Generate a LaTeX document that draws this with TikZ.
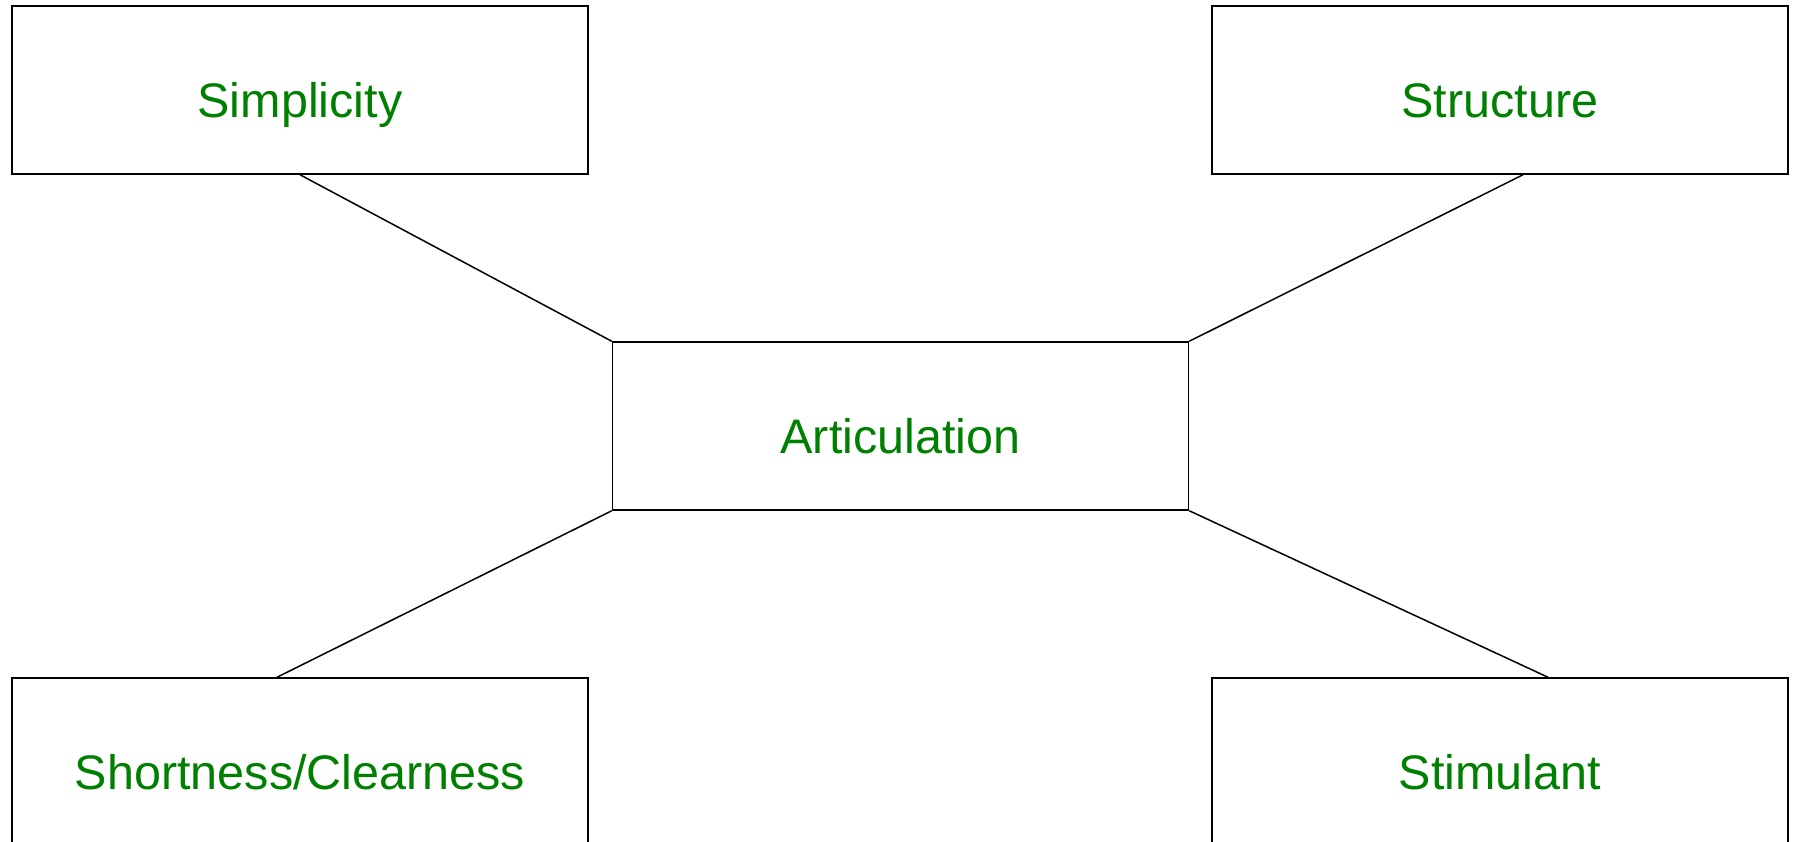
\documentclass[tikz,border=0pt]{standalone}
\usepackage{fontspec}
\setmainfont{Liberation Sans}
\usetikzlibrary{calc}
\definecolor{labelgreen}{RGB}{0,128,0}
\tikzset{
  topic/.style={draw=black, line width=0.6pt, rectangle, inner sep=0pt,
    minimum width=230.4pt, minimum height=67.2pt,
    text=labelgreen, font=\fontsize{19.4pt}{22pt}\selectfont,
    text height=21.6pt, text depth=0pt},
  link/.style={draw=black, line width=0.6pt}
}
\begin{document}
\begin{tikzpicture}[x=0.4pt,y=-0.4pt]
  \useasboundingbox (0,0) rectangle (1793,841);
  \clip (0,0) rectangle (1793,841);
  \fill[white] (0,0) rectangle (1793,841);
  % outer topics and the central one
  \node[topic] (simp)  at (300,90)   {Simplicity};
  \node[topic] (struc) at (1500,90)  {Structure};
  \node[topic] (art)   at (900.5,426) {Articulation};
  \node[topic] (short) at (300,762)  {Shortness/Clearness};
  \node[topic] (stim)  at (1500,762) {Stimulant};
  % connectors to the corners of the central box
  \draw[link] (simp.south) -- (art.north west);
  \draw[link] ($(struc.south)+(23,0)$) -- (art.north east);
  \draw[link] (art.south west) -- ($(short.north)+(-23,0)$);
  \draw[link] (art.south east) -- ($(stim.north)+(48,0)$);
\end{tikzpicture}
\end{document}
